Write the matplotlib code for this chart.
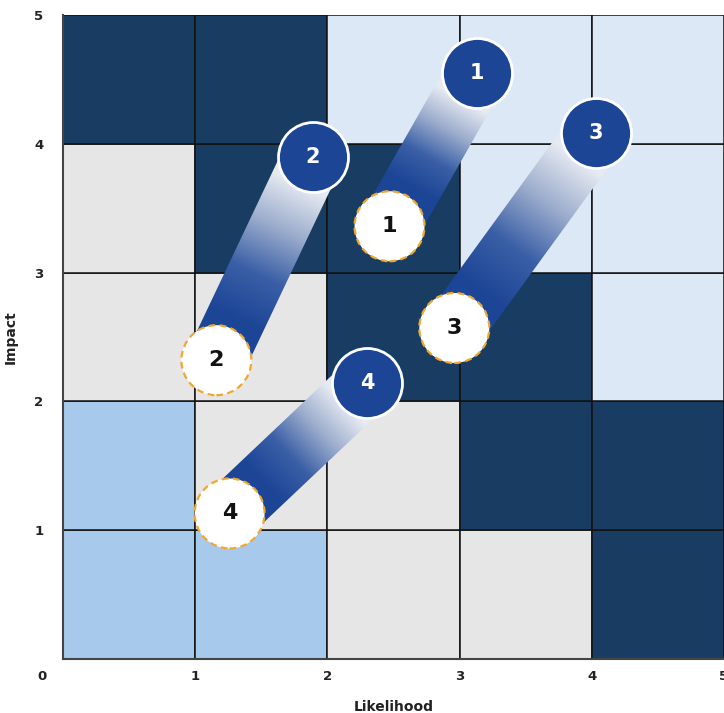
import matplotlib.pyplot as plt
import numpy as np
from matplotlib.colors import LinearSegmentedColormap
from matplotlib.patches import Polygon, Rectangle

# cell colour codes, rows from impact 0-1 (bottom) to 4-5 (top)
grid_levels = [
    [1, 1, 2, 2, 3],
    [1, 2, 2, 3, 3],
    [2, 2, 3, 3, 0],
    [2, 3, 3, 0, 0],
    [3, 3, 0, 0, 0],
]
level_colors = {0: "#dce8f6", 1: "#a7c9eb", 2: "#e6e6e6", 3: "#183c62"}

# risks: current position (white) and target position (blue)
risk_ids = ["1", "2", "3", "4"]
current_x = [2.47, 1.16, 2.96, 1.26]
current_y = [3.36, 2.32, 2.57, 1.13]
target_x = [3.13, 1.89, 4.03, 2.30]
target_y = [4.55, 3.90, 4.08, 2.14]

tick_vals = [1, 2, 3, 4, 5]

band_cmap = LinearSegmentedColormap.from_list(
    "band", ["#1c4596", "#3a5fa6", "#9aabcc", "#e6eaf2"])


def draw_band(ax, x0, y0, x1, y1, half_px=30):
    # gradient ribbon from current to target, built in pixel space
    to_disp = ax.transData
    p0 = to_disp.transform((x0, y0))
    p1 = to_disp.transform((x1, y1))
    d = p1 - p0
    length = np.hypot(*d)
    u = d / length
    n = np.array([-u[1], u[0]])
    corners_px = np.array([p0 + n * half_px, p1 + n * half_px,
                           p1 - n * half_px, p0 - n * half_px])
    corners = to_disp.inverted().transform(corners_px)
    poly = Polygon(corners, closed=True, facecolor="none", edgecolor="none")
    ax.add_patch(poly)

    xs, ys = corners[:, 0], corners[:, 1]
    gx = np.linspace(xs.min(), xs.max(), 200)
    gy = np.linspace(ys.min(), ys.max(), 200)
    X, Y = np.meshgrid(gx, gy)
    pts = to_disp.transform(np.column_stack([X.ravel(), Y.ravel()]))
    # distance along the ribbon in pixels, from the white circle edge
    s = (pts - p0) @ u
    r = 35
    t = np.clip((s - r - 10) / (length - 2 * r - 5), 0, 1)
    img = band_cmap(t).reshape(200, 200, 4)
    im = ax.imshow(img, extent=(xs.min(), xs.max(), ys.min(), ys.max()),
                   origin="lower", aspect="auto", zorder=3,
                   interpolation="bilinear")
    im.set_clip_path(poly)


fig = plt.figure(figsize=(7.24, 7.13), dpi=100)
ax = fig.add_axes([63 / 724, 54 / 713, 661 / 724, 644 / 713])
ax.set_xlim(0, 5)
ax.set_ylim(0, 5)
ax.set_autoscale_on(False)

# heat map cells
for row, levels in enumerate(grid_levels):
    for col, lvl in enumerate(levels):
        ax.add_patch(Rectangle((col, row), 1, 1, facecolor=level_colors[lvl],
                               edgecolor="#111111", linewidth=1.1, zorder=1))

# ribbons
for i in range(len(risk_ids)):
    draw_band(ax, current_x[i], current_y[i], target_x[i], target_y[i])

# current (white dashed) and target (blue) markers
ax.scatter(current_x, current_y, s=2540, facecolor="white", edgecolor="#f0a830",
           linewidths=1.6, linestyles=(0, (3, 2)), zorder=5)
ax.scatter(target_x, target_y, s=2540, facecolor="#1c4596", edgecolor="white",
           linewidths=2, zorder=5)
for i, rid in enumerate(risk_ids):
    ax.text(current_x[i], current_y[i], rid, ha="center", va="center",
            fontsize=16, fontweight="bold", color="#111111", zorder=6)
    ax.text(target_x[i], target_y[i], rid, ha="center", va="center",
            fontsize=15, fontweight="bold", color="white", zorder=6)

# axes styling
ax.set_xticks(tick_vals)
ax.set_yticks(tick_vals)
ax.set_xticklabels([str(v) for v in tick_vals])
ax.set_yticklabels([str(v) for v in tick_vals])
ax.tick_params(length=0, labelsize=9.5, labelcolor="#222222")
ax.tick_params(axis="x", pad=8)
ax.tick_params(axis="y", pad=14)
for lab in ax.get_xticklabels() + ax.get_yticklabels():
    lab.set_fontweight("bold")
for side in ["top", "right"]:
    ax.spines[side].set_visible(False)
for side in ["left", "bottom"]:
    ax.spines[side].set_color("#444444")
    ax.spines[side].set_linewidth(1.5)

fig.text(42 / 724, 1 - 676 / 713, "0", ha="center", va="center",
         fontsize=9.5, fontweight="bold", color="#222222")
ax.set_xlabel("Likelihood", fontsize=10, fontweight="bold", color="#222222",
              labelpad=12)
ax.set_ylabel("Impact", fontsize=10, fontweight="bold", color="#222222",
              labelpad=12)

fig.savefig("out.png", dpi=100)
